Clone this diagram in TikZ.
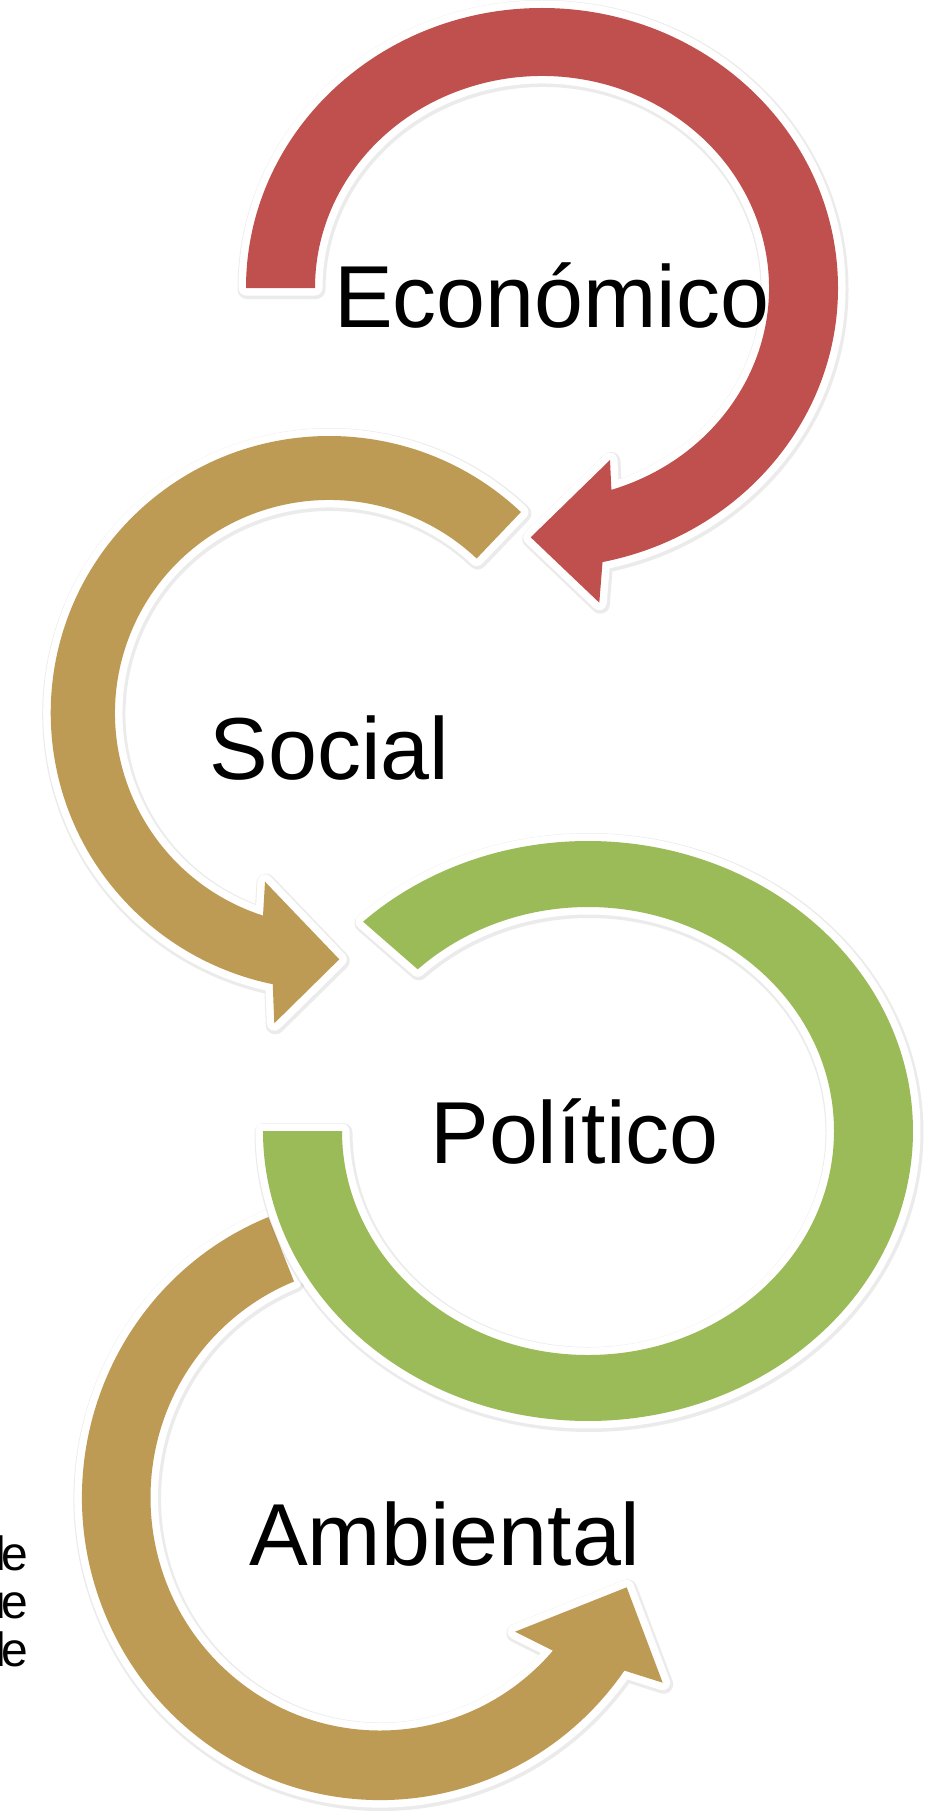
\documentclass[tikz,border=0pt]{standalone}
\usepackage{fontspec}
\setmainfont{Liberation Sans}
\definecolor{redA}{RGB}{192,80,77}
\definecolor{oliveA}{RGB}{190,155,84}
\definecolor{greenA}{RGB}{155,187,89}
\tikzset{
  arrowshadow/.style={draw=black, draw opacity=0.08, line width=19pt, line join=round, shift={(1,1.5)}},
  arrowborder/.style={draw=white, line width=15pt, line join=round},
  ringlabel/.style={font=\fontsize{88}{100}\selectfont, anchor=base, inner sep=0pt},
  sidetext/.style={font=\fontsize{48}{48}\selectfont, anchor=base east, inner sep=0pt},
  redpath/.style={insert path={(246,288) arc[start angle=180,end angle=438.2,x radius=296,y radius=280]
      -- (599.3,602.7) -- (530.7,537.3) -- (610,460) -- (611.39,489.85)
      arc[start angle=432.2,end angle=180,x radius=227,y radius=212] -- cycle}},
  olivepathA/.style={insert path={(520.91,512.07) arc[start angle=313.5,end angle=101.7,x radius=278.5,y radius=277]
      -- (274.3,1023.3) -- (339.3,959.3) -- (265,881.7) -- (263.01,915.58)
      arc[start angle=108,end angle=313.5,x radius=214.2,y radius=213] -- cycle}},
  greenpath/.style={insert path={(363.05,921.69) arc[start angle=226.2,end angle=540,x radius=325,y radius=290]
      -- (342,1131)
      arc[start angle=540,end angle=226.2,x radius=246,y radius=224] -- cycle}},
  olivepathB/.style={insert path={(268.37,1217.03) arc[start angle=248,end angle=34.9,x radius=298,y radius=302.5]
      -- (662.7,1682.7) -- (626.7,1587.3) -- (515,1631.7) -- (552.94,1650.67)
      arc[start angle=41.1,end angle=248,x radius=229.5,y radius=233] -- cycle}},
}
\newcommand\ringarrow[2]{%
  \path[arrowshadow,#2];
  \path[arrowborder,#2];
  \path[fill=#1,#2];
}
\begin{document}
\begin{tikzpicture}[x=1pt,y=1pt,yscale=-1]
\useasboundingbox (0,0) rectangle (946,1811);
\clip (0,0) rectangle (946,1811);
\fill[white] (0,0) rectangle (946,1811);
\ringarrow{oliveA}{olivepathB}
\ringarrow{greenA}{greenpath}
\ringarrow{oliveA}{olivepathA}
\ringarrow{redA}{redpath}
\node[ringlabel] (eco) at (551.8,327.6) {Económico};
\node[ringlabel] (soc) at (329.6,779.5) {Social};
\node[ringlabel] (pol) at (574.6,1163) {Político};
\node[ringlabel] (amb) at (444.9,1565) {Ambiental};
\node[sidetext] (s1) at (28.8,1570) {d\kern-4.5pt e};
\node[sidetext] (s2) at (28.8,1618) {u\kern-4.5pt e};
\node[sidetext] (s3) at (28.8,1666) {d\kern-4.5pt e};
\end{tikzpicture}
\end{document}
